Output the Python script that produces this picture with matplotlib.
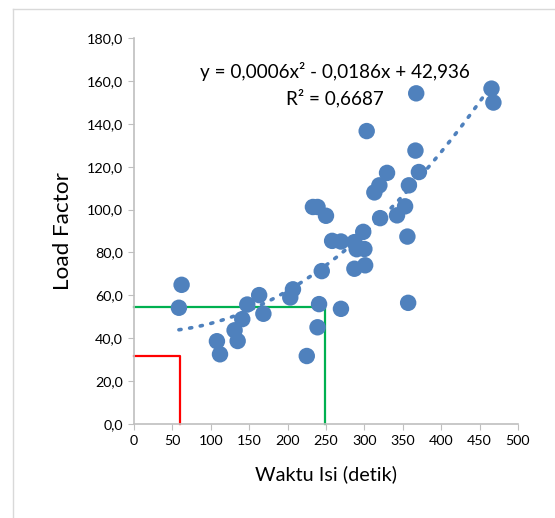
import numpy as np
import matplotlib.pyplot as plt
from matplotlib.lines import Line2D

plt.rcParams['font.family'] = ['Lato', 'DejaVu Sans']

# waktu isi (detik) vs load factor
waktu = [62, 58.5, 108, 112, 131, 135, 141, 147.5, 163, 168.5, 203.5, 207, 225,
         233, 239, 250, 239, 241, 244.5, 258, 269.5, 269.5, 287, 287, 290, 298.5,
         300, 301, 303, 313, 319.5, 329.5, 320.5, 342.5, 353, 356, 357, 358,
         366.5, 367.5, 371, 465.5, 468]
load_factor = [64.9, 54.2, 38.6, 32.5, 43.7, 38.7, 48.9, 55.7, 60.1, 51.4, 59.0,
               62.8, 31.7, 101.2, 101.2, 97.1, 45.1, 55.9, 71.3, 85.4, 85.1, 53.7,
               72.4, 84.8, 81.5, 89.6, 81.6, 74.0, 136.6, 108.0, 111.3, 117.1, 96.0,
               97.3, 101.5, 87.4, 56.5, 111.3, 127.5, 154.2, 117.5, 156.4, 149.9]

eq_text = "y = 0,0006x\u00b2 - 0,0186x + 42,936"
r2_text = "R\u00b2 = 0,6687"

green_pt = (249, 54.5)
red_pt = (60.5, 31.7)

x_ticks = np.arange(0, 501, 50)
y_ticks = np.arange(0, 181, 20)

fig = plt.figure(figsize=(5.55, 5.18), dpi=100)
ax = fig.add_axes([0.2414, 0.1815, 0.6919, 0.7451])

blue = '#4F81BD'
ax.scatter(waktu, load_factor, s=140, color=blue, edgecolors='none', zorder=3)

# polynomial trend line (order 2)
coef = np.polyfit(waktu, load_factor, 2)
xs = np.linspace(min(waktu), max(waktu), 200)
ax.plot(xs, np.polyval(coef, xs), color=blue, lw=2.6, linestyle=(0, (0.6, 2.4)),
        dash_capstyle='round', zorder=4)

# guide lines
ax.plot([0, green_pt[0], green_pt[0]], [green_pt[1], green_pt[1], 0],
        color='#00B050', lw=1.6, zorder=2, clip_on=False)
ax.plot([0, red_pt[0], red_pt[0]], [red_pt[1], red_pt[1], 0],
        color='#FF0000', lw=1.6, zorder=2, clip_on=False)

ax.text(262, 164.2, eq_text, ha='center', va='center', fontsize=13.6)
ax.text(262, 152, r2_text, ha='center', va='center', fontsize=13.6)

ax.set_xlim(0, 500)
ax.set_ylim(0, 180)
ax.set_xticks(x_ticks)
ax.set_yticks(y_ticks)
ax.set_yticklabels([f"{v:.1f}".replace('.', ',') for v in y_ticks])
ax.tick_params(direction='out', length=4, color='#bfbfbf', labelsize=10.3, pad=4)
for s in ['top', 'right']:
    ax.spines[s].set_visible(False)
for s in ['left', 'bottom']:
    ax.spines[s].set_color('#bfbfbf')
    ax.spines[s].set_linewidth(1.2)

ax.set_xlabel("Waktu Isi (detik)", fontsize=14.3, labelpad=13)
ax.set_ylabel("Load Factor", fontsize=16.2, labelpad=10)

# chart area border
fig.add_artist(Line2D([13 / 555, 13 / 555], [0, 1 - 9 / 518], color='#d9d9d9', lw=1))
fig.add_artist(Line2D([13 / 555, 1], [1 - 9 / 518, 1 - 9 / 518], color='#d9d9d9', lw=1))

fig.savefig('out.png', dpi=100)
